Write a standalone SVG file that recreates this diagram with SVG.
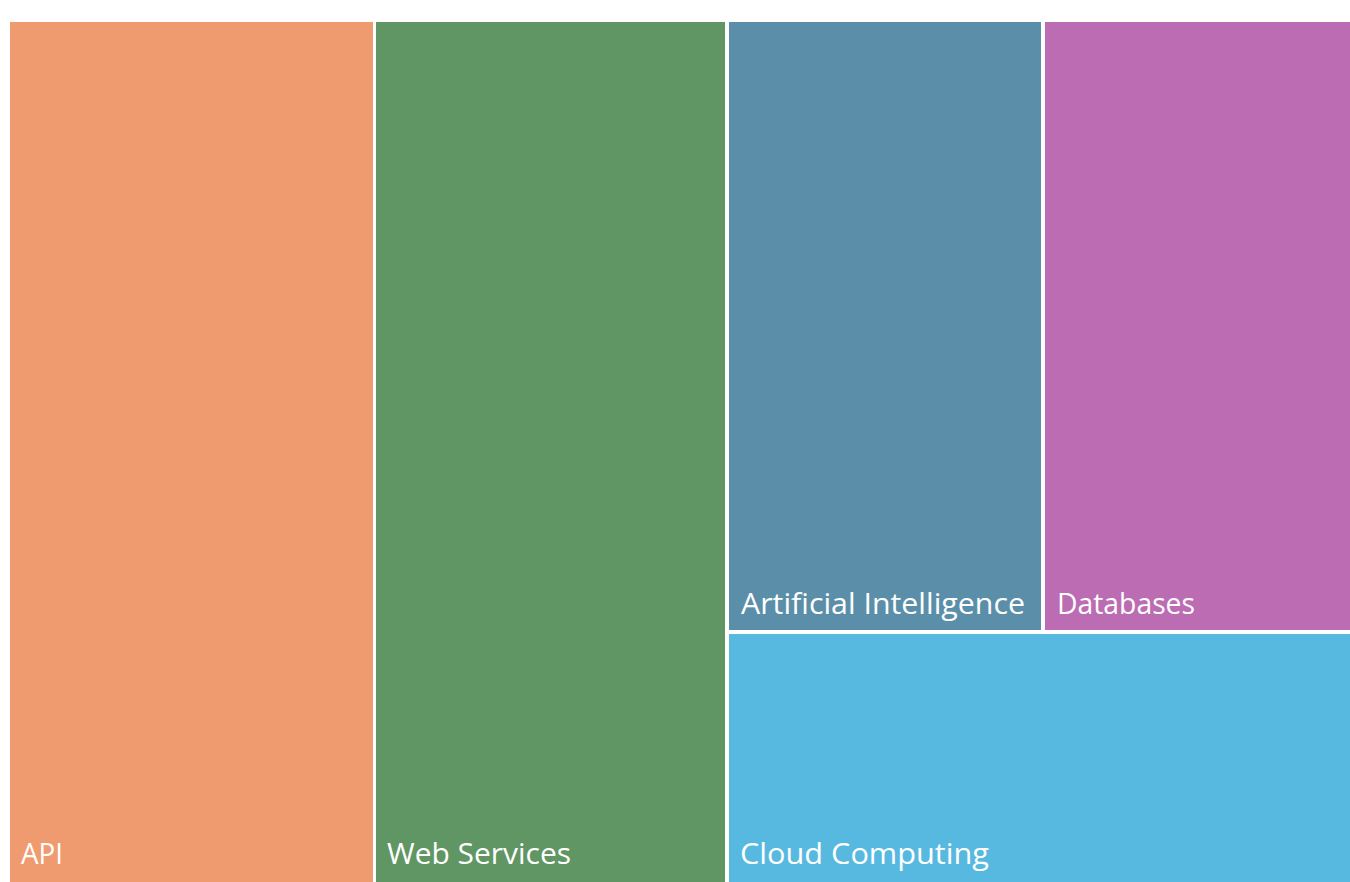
<svg xmlns="http://www.w3.org/2000/svg" width="1350" height="882" viewBox="0 0 1350 882">
<style>
.lbl{font-family:"Open Sans","Noto Sans","Liberation Sans",sans-serif;font-size:30px;fill:#ffffff;}
</style>
<rect x="0" y="0" width="1350" height="882" fill="#ffffff"/>
<g id="node-api">
<rect x="10" y="22" width="363" height="862" fill="#EF9B6F"/>
<text class="lbl" x="21" y="864" textLength="42" lengthAdjust="spacingAndGlyphs">API</text>
</g>
<g id="node-web-services">
<rect x="376" y="22" width="349" height="862" fill="#5F9664"/>
<text class="lbl" x="387" y="864" textLength="184" lengthAdjust="spacingAndGlyphs">Web Services</text>
</g>
<g id="node-ai">
<rect x="729" y="22" width="312" height="608" fill="#5B8FA9"/>
<text class="lbl" x="741" y="614" textLength="284" lengthAdjust="spacingAndGlyphs">Artificial Intelligence</text>
</g>
<g id="node-databases">
<rect x="1045" y="22" width="307" height="608" fill="#BC6CB3"/>
<text class="lbl" x="1057" y="614" textLength="138" lengthAdjust="spacingAndGlyphs">Databases</text>
</g>
<g id="node-cloud">
<rect x="729" y="634" width="623" height="250" fill="#58B9E0"/>
<text class="lbl" x="740" y="864" textLength="249" lengthAdjust="spacingAndGlyphs">Cloud Computing</text>
</g>
<g id="connectors"></g>
</svg>
